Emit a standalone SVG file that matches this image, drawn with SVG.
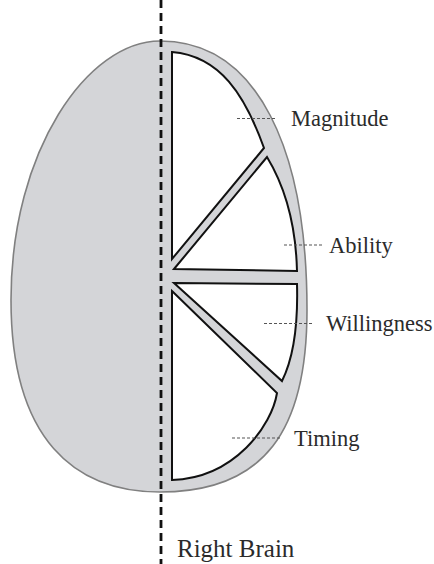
<svg xmlns="http://www.w3.org/2000/svg" width="434" height="564" viewBox="0 0 434 564">
<style>
.egg{fill:#d4d5d8;stroke:#808080;stroke-width:1.6}
.seg{fill:#ffffff;stroke:#111111;stroke-width:2;stroke-linejoin:miter}
.axis{stroke:#111111;stroke-width:2.8;stroke-dasharray:8 5;fill:none}
.lead{stroke:#555555;stroke-width:1.2;stroke-dasharray:3 2;fill:none}
.lbl{font-family:"Liberation Serif","Times New Roman",serif;font-size:22.5px;fill:#2b2b2b}
.big{font-size:25px}
</style>
<rect width="434" height="564" fill="#ffffff"/>
<g id="brain">
<path class="egg" d="M160,41 C258,41 307,150 307,310 C307,430 265,492 160,492 C75,492 11,440 11,300 C11,150 88,41 160,41 Z"/>
</g>
<g id="magnitude-segment"><path class="seg" d="M172,52 L172,259 L264,148 C245,95 220,56 172,52 Z"/></g>
<g id="ability-segment"><path class="seg" d="M174,269 L267,157 C287,190 296,230 297,271 Z"/></g>
<g id="willingness-segment"><path class="seg" d="M174,283 L297,284 C298,320 295,355 282,381 Z"/></g>
<g id="timing-segment"><path class="seg" d="M172,291 L277,393 C272,425 235,478 172,480 Z"/></g>
<g id="midline"><line class="axis" x1="161" y1="0" x2="161" y2="564"/></g>
<g id="connectors">
<line class="lead" x1="237" y1="118.5" x2="276" y2="118.5"/>
<line class="lead" x1="284" y1="245" x2="322" y2="245"/>
<line class="lead" x1="264" y1="323.5" x2="312" y2="323.5"/>
<line class="lead" x1="232" y1="438" x2="281" y2="438"/>
</g>
<g id="label-magnitude"><text class="lbl" x="291" y="126">Magnitude</text></g>
<g id="label-ability"><text class="lbl" x="329" y="253">Ability</text></g>
<g id="label-willingness"><text class="lbl" x="326" y="331">Willingness</text></g>
<g id="label-timing"><text class="lbl" x="294" y="446">Timing</text></g>
<g id="label-right-brain"><text class="lbl big" x="177" y="557">Right Brain</text></g>
</svg>
